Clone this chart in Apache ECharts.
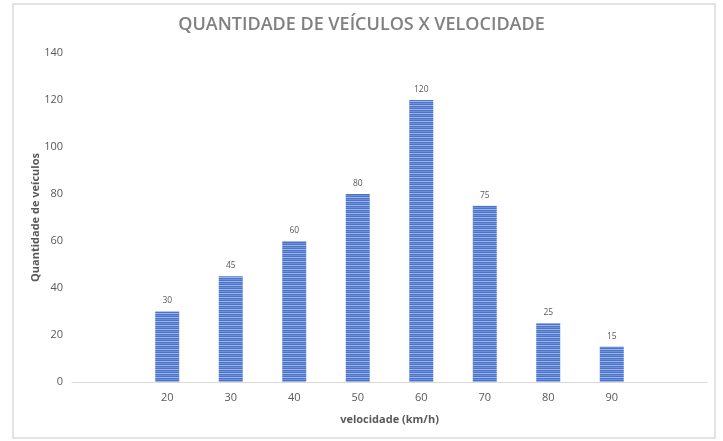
<!DOCTYPE html>
<html>
<head>
<meta charset="utf-8">
<script src="https://cdn.jsdelivr.net/npm/echarts@6/dist/echarts.min.js"></script>
<style>
html,body{margin:0;padding:0;background:#fff;}
#frame{position:absolute;left:12px;top:3px;width:704px;height:436px;border:2px solid #e3e3e3;box-sizing:border-box;}
#c{position:absolute;left:0;top:0;width:723px;height:441px;}
</style>
</head>
<body>
<div id="frame"></div>
<div id="c"></div>
<script>
const titleText = 'QUANTIDADE DE VEÍCULOS X VELOCIDADE';
const xAxisName = 'velocidade (km/h)';
const yAxisName = 'Quantidade de veículos';
const speeds = ['20','30','40','50','60','70','80','90'];
const counts = [30, 45, 60, 80, 120, 75, 25, 15];
const yTicks = { min: 0, max: 140, interval: 20 };

// one empty slot on each side, as in the reference
const cats = [''].concat(speeds, ['']);
const vals = ['-'].concat(counts, ['-']);

function stripePattern() {
  const cv = document.createElement('canvas');
  cv.width = 4; cv.height = 4;
  const g = cv.getContext('2d');
  g.fillStyle = '#4a74c9'; g.fillRect(0,0,4,4);
  g.fillStyle = '#9fb5e6'; g.fillRect(0,1,4,1);
  g.fillStyle = '#6f8fd6'; g.fillRect(0,3,4,1);
  return cv;
}

const chart = echarts.init(document.getElementById('c'), null, {renderer:'canvas'});
const fam = '"Open Sans", sans-serif';
chart.setOption({
  animation: false,
  title: {
    text: titleText, left: 'center', top: 11,
    textStyle: { fontFamily: fam, fontSize: 18, fontWeight: 600, color: '#808080' }
  },
  grid: { left: 72, right: 16, top: 53, bottom: 59, containLabel: false },
  xAxis: {
    type: 'category', data: cats,
    name: xAxisName, nameLocation: 'middle', nameGap: 32,
    nameTextStyle: { fontFamily: fam, fontSize: 11, fontWeight: 'bold', color: '#595959' },
    axisLine: { lineStyle: { color: '#d9d9d9', width: 1 } },
    axisTick: { show: false },
    axisLabel: { fontFamily: fam, fontSize: 11, color: '#595959', margin: 10 }
  },
  yAxis: {
    type: 'value', min: yTicks.min, max: yTicks.max, interval: yTicks.interval,
    name: yAxisName, nameLocation: 'middle', nameGap: 31, nameMoveOverlap: false,
    nameTextStyle: { fontFamily: fam, fontSize: 11, fontWeight: 'bold', color: '#595959' },
    axisLine: { show: false }, axisTick: { show: false },
    splitLine: { show: false },
    axisLabel: { fontFamily: fam, fontSize: 11, color: '#595959', margin: 9 }
  },
  series: [{
    type: 'bar', data: vals, barWidth: 24,
    itemStyle: { color: { image: stripePattern(), repeat: 'repeat' } },
    label: { show: true, position: 'top', distance: 6, fontFamily: fam, fontSize: 8.5, color: '#595959' }
  }]
});
</script>
</body>
</html>
